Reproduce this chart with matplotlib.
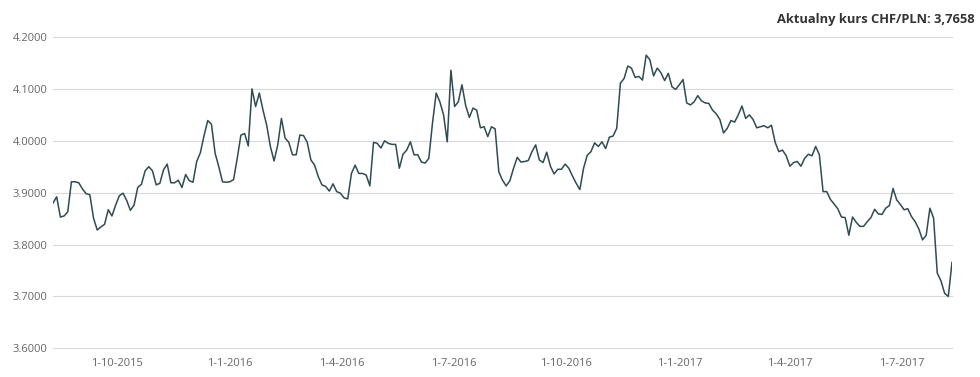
import matplotlib
matplotlib.use("Agg")
import matplotlib.pyplot as plt
from matplotlib.ticker import FormatStrFormatter
import pandas as pd

# CHF/PLN, one reading every 3 days starting 10-08-2015
start_date = "2015-08-10"
rates = [
    3.880, 3.892, 3.853, 3.855, 3.863, 3.921, 3.921, 3.919, 3.907, 3.898,
    3.896, 3.851, 3.828, 3.834, 3.839, 3.867, 3.855, 3.876, 3.894, 3.899,
    3.885, 3.866, 3.876, 3.910, 3.916, 3.942, 3.950, 3.942, 3.915, 3.918,
    3.944, 3.955, 3.919, 3.919, 3.924, 3.910, 3.935, 3.923, 3.920, 3.960,
    3.977, 4.010, 4.039, 4.032, 3.976, 3.950, 3.921, 3.920, 3.921, 3.925,
    3.966, 4.011, 4.014, 3.990, 4.100, 4.066, 4.092, 4.059, 4.030, 3.989,
    3.961, 3.992, 4.043, 4.005, 3.997, 3.973, 3.973, 4.011, 4.010, 3.997,
    3.963, 3.953, 3.931, 3.915, 3.912, 3.903, 3.917, 3.902, 3.899, 3.890,
    3.888, 3.937, 3.953, 3.937, 3.937, 3.934, 3.913, 3.997, 3.995, 3.986,
    4.000, 3.995, 3.993, 3.993, 3.947, 3.974, 3.982, 3.998, 3.973, 3.973,
    3.959, 3.957, 3.966, 4.034, 4.092, 4.075, 4.050, 3.998, 4.136, 4.066,
    4.075, 4.108, 4.068, 4.045, 4.063, 4.059, 4.025, 4.027, 4.008, 4.027,
    4.023, 3.940, 3.924, 3.913, 3.923, 3.947, 3.968, 3.959, 3.960, 3.962,
    3.979, 3.992, 3.963, 3.958, 3.978, 3.951, 3.936, 3.945, 3.945, 3.955,
    3.947, 3.932, 3.918, 3.906, 3.947, 3.972, 3.979, 3.996, 3.989, 3.998,
    3.985, 4.007, 4.009, 4.024, 4.111, 4.120, 4.144, 4.140, 4.122, 4.124,
    4.117, 4.165, 4.156, 4.125, 4.140, 4.131, 4.116, 4.130, 4.104, 4.099,
    4.108, 4.118, 4.073, 4.069, 4.075, 4.087, 4.077, 4.073, 4.072, 4.059,
    4.052, 4.041, 4.015, 4.024, 4.039, 4.036, 4.050, 4.067, 4.043, 4.050,
    4.041, 4.025, 4.027, 4.029, 4.025, 4.030, 3.997, 3.979, 3.982, 3.971,
    3.951, 3.958, 3.960, 3.951, 3.966, 3.974, 3.971, 3.989, 3.973, 3.902,
    3.902, 3.887, 3.878, 3.869, 3.853, 3.852, 3.818, 3.853, 3.843, 3.835,
    3.835, 3.844, 3.852, 3.868, 3.859, 3.858, 3.870, 3.875, 3.908, 3.886,
    3.877, 3.867, 3.869, 3.854, 3.844, 3.830, 3.809, 3.818, 3.870, 3.851,
    3.745, 3.730, 3.706, 3.700, 3.7658,
]
tick_dates = ["2015-10-01", "2016-01-01", "2016-04-01", "2016-07-01",
              "2016-10-01", "2017-01-01", "2017-04-01", "2017-07-01"]
y_ticks = [3.6, 3.7, 3.8, 3.9, 4.0, 4.1, 4.2]
current_rate = "3,7658"

plt.rcParams['font.family'] = ['Open Sans', 'DejaVu Sans']

dates = pd.date_range(start_date, periods=len(rates), freq="3D")
ticks = pd.to_datetime(tick_dates)

fig = plt.figure(figsize=(9.8, 3.77), dpi=100)
ax = fig.add_axes([53 / 980, 1 - 348.3 / 377, (952 - 53) / 980, (348.3 - 37) / 377])

ax.plot(dates, rates, color='#2f4b54', lw=1.1, zorder=3)

ax.set_xlim(dates[0], dates[-1])
ax.set_ylim(y_ticks[0], y_ticks[-1])
ax.set_yticks(y_ticks)
ax.yaxis.set_major_formatter(FormatStrFormatter('%.4f'))
ax.set_xticks(ticks)
ax.set_xticklabels(["%d-%d-%d" % (d.day, d.month, d.year) for d in ticks])

ax.grid(axis='y', color='#d9d9d9', lw=0.8)
ax.grid(axis='x', visible=False)
ax.set_axisbelow(True)
for s in ax.spines.values():
    s.set_visible(False)
ax.tick_params(length=0, labelsize=8, colors='#666666')
ax.tick_params(axis='y', pad=4)
ax.tick_params(axis='x', pad=7)
for gl in ax.get_ygridlines():
    gl.set_clip_on(False)

fig.text(975 / 980, 1 - 19 / 377, "Aktualny kurs CHF/PLN: " + current_rate,
         ha='right', va='center', fontsize=9.3, fontweight='bold', color='#333333')

fig.savefig("out.png", dpi=100)
